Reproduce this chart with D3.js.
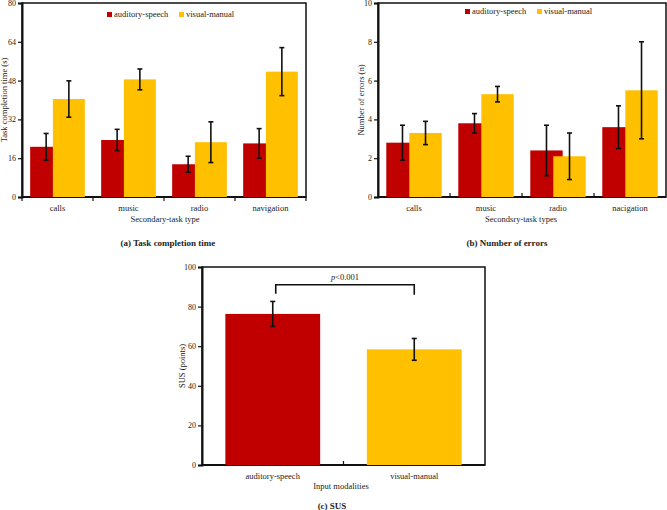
<!DOCTYPE html>
<html>
<head>
<meta charset="utf-8">
<script src="https://cdn.jsdelivr.net/npm/d3@7"></script>
<style>
  body { margin: 0; background: #fff; }
  text { font-family: "Liberation Serif", "Times New Roman", serif; fill: #222; }
</style>
</head>
<body>
<svg id="chart" width="667" height="510"></svg>
<script>
// series names and colours
var seriesNames = ["auditory-speech", "visual-manual"];
var seriesColors = ["#C00000", "#FFC000"];

// (a) task completion time
var timeCats = ["calls", "music", "radio", "navigation"];
var timeSpeech = [20.7, 23.5, 13.5, 22.1];
var timeSpeechErr = [5.5, 4.4, 3.3, 6.1];
var timeManual = [40.4, 48.5, 22.6, 51.7];
var timeManualErr = [7.5, 4.3, 8.4, 9.9];
var timeTicks = [0, 16, 32, 48, 64, 80];

// (b) number of errors
var errCats = ["calls", "music", "radio", "nacigation"];
var errSpeech = [2.8, 3.8, 2.4, 3.6];
var errSpeechErr = [0.9, 0.5, 1.3, 1.1];
var errManual = [3.3, 5.3, 2.1, 5.5];
var errManualErr = [0.6, 0.4, 1.2, 2.5];
var errTicks = [0, 2, 4, 6, 8, 10];

// (c) SUS
var susCats = ["auditory-speech", "visual-manual"];
var susValues = [76.3, 58.4];
var susErr = [6.3, 5.5];
var susTicks = [0, 20, 40, 60, 80, 100];

var svg = d3.select("#chart");

// draws the frame + axes for one panel, returns scales
function drawFrame(box, cats, ticks, opts) {
    var x = d3.scaleBand().domain(cats).range([box.left, box.right]);
    var y = d3.scaleLinear().domain([0, ticks[ticks.length - 1]]).range([box.bottom, box.top]);
    var g = svg.append("g");

    // thin frame
    g.append("rect")
        .attr("x", box.left).attr("y", box.top)
        .attr("width", box.right - box.left).attr("height", box.bottom - box.top)
        .attr("fill", "none").attr("stroke", "#111").attr("stroke-width", 1.5);

    var yAxis = d3.axisLeft(y).tickValues(ticks).tickSize(4).tickPadding(2);
    var ya = g.append("g").attr("transform", "translate(" + box.left + ",0)").call(yAxis);
    ya.select(".domain").attr("stroke", "#111").attr("stroke-width", 2);
    ya.selectAll(".tick line").attr("stroke", "#111").attr("stroke-width", 1.2);
    ya.selectAll("text").style("font-family", "Liberation Serif").style("font-size", "8px").attr("fill", "#222");

    // x axis: boundary ticks
    var bounds = cats.map(function(c) { return x(c); }).concat([box.right]);
    g.append("line").attr("x1", box.left).attr("x2", box.right)
        .attr("y1", box.bottom).attr("y2", box.bottom)
        .attr("stroke", "#111").attr("stroke-width", 2);
    g.selectAll(".xt").data(bounds.slice(opts.skipFirst ? 1 : 0, opts.skipLast ? bounds.length - 1 : bounds.length)).enter()
        .append("line")
        .attr("x1", function(d) { return d; }).attr("x2", function(d) { return d; })
        .attr("y1", box.bottom).attr("y2", box.bottom + opts.tickDir * 4)
        .attr("stroke", "#111").attr("stroke-width", 1.2);

    g.selectAll(".xl").data(cats).enter().append("text")
        .attr("x", function(d) { return x(d) + x.bandwidth() / 2; })
        .attr("y", box.bottom + 14)
        .attr("text-anchor", "middle").style("font-size", "8.5px")
        .text(function(d) { return d; });

    g.append("text")
        .attr("x", opts.xTitleX).attr("y", box.bottom + opts.xTitleDy)
        .attr("text-anchor", "middle").style("font-size", "8.5px")
        .text(opts.xTitle);

    g.append("text")
        .attr("transform", "translate(" + opts.yTitleX + "," + (box.top + box.bottom) / 2 + ") rotate(-90)")
        .attr("text-anchor", "middle").style("font-size", "8.5px")
        .text(opts.yTitle);

    g.append("text")
        .attr("x", opts.capX).attr("y", opts.capY)
        .attr("text-anchor", "middle").style("font-size", "9px").style("font-weight", "bold")
        .text(opts.caption);

    return { x: x, y: y, g: g };
}

function errorBar(g, cx, y, v, e) {
    var cap = 2.5;
    g.append("line").attr("x1", cx).attr("x2", cx).attr("y1", y(v + e)).attr("y2", y(v - e))
        .attr("stroke", "#111").attr("stroke-width", 1.6);
    [v + e, v - e].forEach(function(t) {
        g.append("line").attr("x1", cx - cap).attr("x2", cx + cap).attr("y1", y(t)).attr("y2", y(t))
            .attr("stroke", "#111").attr("stroke-width", 1.6);
    });
}

function groupedBars(s, cats, a, aErr, b, bErr) {
    var bw = s.x.bandwidth() * 0.45;
    var off = s.x.bandwidth() * 0.16;
    var series = [{ v: a, e: aErr, dx: -off, c: seriesColors[0] }, { v: b, e: bErr, dx: off, c: seriesColors[1] }];
    series.forEach(function(ser) {
        s.g.selectAll(null).data(cats).enter().append("rect")
            .attr("x", function(d) { return s.x(d) + s.x.bandwidth() / 2 + ser.dx - bw / 2; })
            .attr("y", function(d, i) { return s.y(ser.v[i]); })
            .attr("width", bw)
            .attr("height", function(d, i) { return s.y(0) - s.y(ser.v[i]); })
            .attr("fill", ser.c);
    });
    series.forEach(function(ser) {
        cats.forEach(function(d, i) {
            errorBar(s.g, s.x(d) + s.x.bandwidth() / 2 + ser.dx, s.y, ser.v[i], ser.e[i]);
        });
    });
}

function legend(g, x0, y0) {
    var xs = [x0, x0 + 72];
    seriesNames.forEach(function(n, i) {
        g.append("rect").attr("x", xs[i]).attr("y", y0 - 5).attr("width", 5).attr("height", 5).attr("fill", seriesColors[i]);
        g.append("text").attr("x", xs[i] + 7).attr("y", y0).style("font-size", "8.5px").text(n);
    });
}

// (a)
var boxA = { left: 22, right: 306, top: 3, bottom: 197 };
var sa = drawFrame(boxA, timeCats, timeTicks, {
    tickDir: 1, skipFirst: false, skipLast: false,
    xTitle: "Secondary-task type", xTitleX: 165, xTitleDy: 25,
    yTitle: "Task completion time (s)", yTitleX: 7,
    caption: "(a) Task completion time", capX: 168, capY: 246
});
groupedBars(sa, timeCats, timeSpeech, timeSpeechErr, timeManual, timeManualErr);
legend(sa.g, 107, 17);

// (b)
var boxB = { left: 378, right: 666, top: 3, bottom: 197 };
var sb = drawFrame(boxB, errCats, errTicks, {
    tickDir: -1, skipFirst: true, skipLast: true,
    xTitle: "Secondsry-task types", xTitleX: 521, xTitleDy: 25,
    yTitle: "Number of errors (n)", yTitleX: 364,
    caption: "(b) Number of errors", capX: 507, capY: 246
});
groupedBars(sb, errCats, errSpeech, errSpeechErr, errManual, errManualErr);
legend(sb.g, 465, 14);

// (c)
var boxC = { left: 202, right: 485, top: 267, bottom: 465 };
var sc = drawFrame(boxC, susCats, susTicks, {
    tickDir: -1, skipFirst: true, skipLast: true,
    xTitle: "Input modalities", xTitleX: 341, xTitleDy: 24,
    yTitle: "SUS (points)", yTitleX: 185,
    caption: "(c) SUS", capX: 332, capY: 509
});
var bwC = sc.x.bandwidth() * 0.67;
sc.g.selectAll(null).data(susCats).enter().append("rect")
    .attr("x", function(d) { return sc.x(d) + (sc.x.bandwidth() - bwC) / 2; })
    .attr("y", function(d, i) { return sc.y(susValues[i]); })
    .attr("width", bwC)
    .attr("height", function(d, i) { return sc.y(0) - sc.y(susValues[i]); })
    .attr("fill", function(d, i) { return seriesColors[i]; });
susCats.forEach(function(d, i) {
    errorBar(sc.g, sc.x(d) + sc.x.bandwidth() / 2, sc.y, susValues[i], susErr[i]);
});

// significance bracket
var bl = sc.x(susCats[0]) + sc.x.bandwidth() / 2 + 3;
var br = sc.x(susCats[1]) + sc.x.bandwidth() / 2;
var by = sc.y(91);
sc.g.append("path")
    .attr("d", "M" + bl + "," + sc.y(86.5) + "V" + by + "H" + br + "V" + sc.y(86))
    .attr("fill", "none").attr("stroke", "#111").attr("stroke-width", 1.6);
var pt = sc.g.append("text").attr("x", (bl + br) / 2).attr("y", sc.y(93.5))
    .attr("text-anchor", "middle").style("font-size", "8.5px");
pt.append("tspan").style("font-style", "italic").text("p");
pt.append("tspan").text("<0.001");
</script>
</body>
</html>
